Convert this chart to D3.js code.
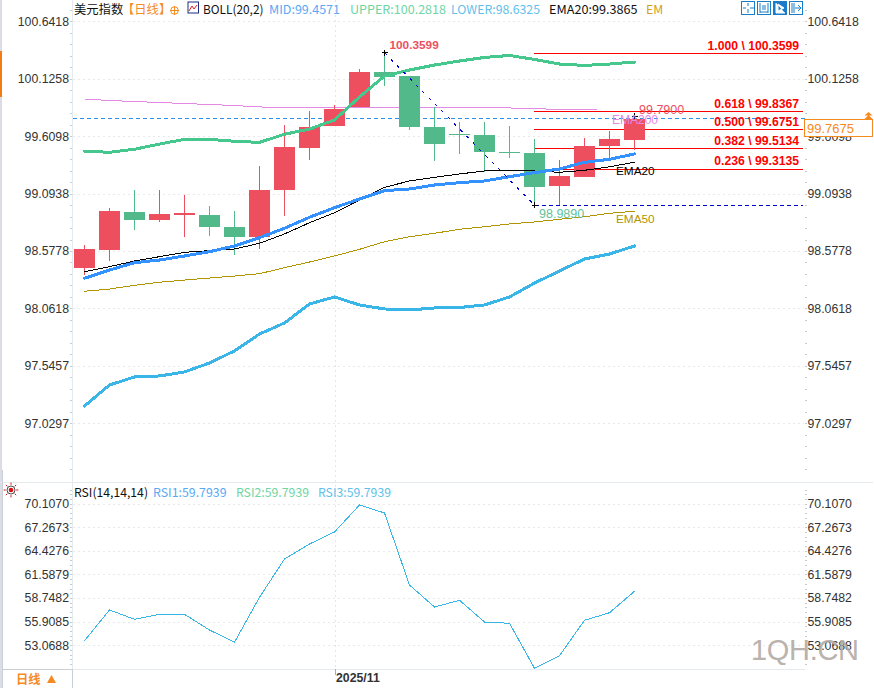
<!DOCTYPE html>
<html><head><meta charset="utf-8">
<script src="https://cdnjs.cloudflare.com/ajax/libs/d3/7.8.5/d3.min.js"></script>
<style>
html,body{margin:0;padding:0;background:#fff;overflow:hidden}
svg{display:block}
text{font-family:"Liberation Sans",Arial,sans-serif}
.hd text,.hd{font-family:"Noto Sans CJK SC","Noto Sans",sans-serif;font-size:12.3px}
.crisp{shape-rendering:crispEdges}
</style></head><body>
<svg id="c" width="874" height="688"></svg>
<script>
const categories=["10-20","10-21","10-22","10-23","10-24","10-27","10-28","10-29","10-30","10-31","11-03","11-04","11-05","11-06","11-07","11-10","11-11","11-12","11-13","11-14","11-17","11-18","11-19"];
const opens =[98.428,98.587,98.928,98.856,98.901,98.901,98.794,98.704,99.126,99.503,99.701,99.872,100.186,100.150,99.692,99.625,99.620,99.467,99.458,99.162,99.243,99.522,99.575];
const closes=[98.596,98.937,98.856,98.910,98.919,98.794,98.704,99.126,99.512,99.692,99.854,100.186,100.141,99.692,99.539,99.620,99.467,99.458,99.153,99.252,99.522,99.584,99.7675];
const highs =[98.632,98.964,99.126,99.126,99.081,98.982,98.937,99.342,99.710,99.836,99.890,100.213,100.3599,100.150,99.872,99.737,99.737,99.701,99.584,99.395,99.593,99.656,99.790];
const lows  =[98.362,98.488,98.767,98.838,98.704,98.713,98.542,98.596,98.892,99.395,99.701,99.872,100.061,99.665,99.387,99.450,99.288,99.414,98.989,98.989,99.243,99.414,99.486];
const bollUpper=[99.474,99.465,99.492,99.539,99.581,99.581,99.564,99.554,99.627,99.674,99.755,99.962,100.150,100.204,100.249,100.285,100.317,100.335,100.299,100.258,100.245,100.258,100.276];
const bollMid=[98.333,98.407,98.473,98.497,98.533,98.572,98.623,98.698,98.782,98.881,98.967,99.045,99.120,99.135,99.171,99.192,99.207,99.246,99.282,99.315,99.375,99.402,99.450];
const bollLower=[97.185,97.374,97.446,97.455,97.491,97.572,97.680,97.832,97.931,98.102,98.165,98.093,98.057,98.048,98.066,98.070,98.093,98.165,98.290,98.398,98.506,98.551,98.623];
const ema20=[98.392,98.437,98.488,98.527,98.566,98.581,98.596,98.647,98.731,98.832,98.922,99.036,99.150,99.207,99.240,99.270,99.297,99.303,99.297,99.285,99.303,99.335,99.375];
const ema50=[98.216,98.236,98.270,98.297,98.317,98.335,98.353,98.374,98.428,98.479,98.533,98.593,98.661,98.706,98.737,98.773,98.796,98.821,98.839,98.863,98.886,98.917,98.935];
const ema200=[99.944,99.930,99.921,99.912,99.903,99.894,99.885,99.872,99.869,99.869,99.869,99.869,99.869,99.867,99.867,99.863,99.863,99.863,99.858,99.849,99.845,99.845];
const rsi=[53.60,57.30,56.18,56.78,56.78,54.89,53.41,58.83,63.44,65.25,66.70,69.95,68.99,60.31,57.66,58.47,55.85,55.70,50.28,51.79,56.06,56.97,59.55];
const priceTicks=[100.6418,100.1258,99.6098,99.0938,98.5778,98.0618,97.5457,97.0297];
const rsiTicks=[70.1070,67.2673,64.4276,61.5879,58.7482,55.9085,53.0688];
const fibRatios=["1.000","0.618","0.500","0.382","0.236"];
const fibValues=[100.3599,99.8367,99.6751,99.5134,99.3135];
const fibLineValues=[100.3599,99.8367,99.6751,99.5005,99.3135];
const lastClose=99.7675, peak=100.3599, trough=98.9890, lastHigh=99.7900;
const dateTick="11-03", dateLabel="2025/11";

const RED="#ee4f5f",GREEN="#52b98a";
const svg=d3.select("#c");
const x=d3.scalePoint().domain(categories).range([84.5,634.5]);
const y=d3.scaleLinear().domain([100.6418,97.0297]).range([21.3,423.3]);
const yR=d3.scaleLinear().domain([70.107,53.0688]).range([503.7,645.1]);
const L=72.5,R=803.5;

function hl(yy,x0,x1,c,dash){const l=svg.append("line").attr("class","crisp").attr("x1",x0).attr("x2",x1).attr("y1",yy).attr("y2",yy).attr("stroke",c);if(dash)l.attr("stroke-dasharray",dash);return l;}
function vl(xx,y0,y1,c,dash){const l=svg.append("line").attr("class","crisp").attr("x1",xx).attr("x2",xx).attr("y1",y0).attr("y2",y1).attr("stroke",c);if(dash)l.attr("stroke-dasharray",dash);}
svg.append("rect").attr("x",0).attr("y",0).attr("width",2).attr("height",688).attr("fill","#dcdce6");
svg.append("rect").attr("x",0).attr("y",51).attr("width",2).attr("height",46).attr("fill","#f47a14");
vl(L,0,669,"#e4eaee");
hl(482.5,0,873,"#e4eaee");
hl(669.5,L,805,"#e4eaee");
hl(669.5,2,L,"#c8d0d6");
vl(2.5,470,688,"#c8d0d6");
vl(72.5,669,688,"#c8d0d6");

// grid
priceTicks.forEach(t=>hl(Math.round(y(t))+.5,L,R,"#e9e9e9","2,3"));
rsiTicks.forEach(t=>hl(Math.round(yR(t))+.5,L,R,"#e9e9e9","2,3"));
vl(Math.round(x(dateTick))+.5,0,669,"#e6e6e6","2,3");
vl(Math.round(x(dateTick))+.5,669,675,"#aaa");

// axes
const mP=d3.range(-2,40).map(i=>100.6418-i*0.1032);
const mR=d3.range(-3,40).map(i=>70.107-i*0.56794).filter(v=>yR(v)>=485&&yR(v)<=668);
function axis(scale,ticks,minor,side){
  const a=(side==="l"?d3.axisLeft(scale):d3.axisRight(scale)).tickValues(ticks).tickFormat(d3.format(".4f")).tickSize(0).tickPadding(0);
  const g=svg.append("g").attr("transform",`translate(${side==="l"?69:807.5},0)`).call(a);
  g.select(".domain").remove();
  g.selectAll("text").attr("font-family",'"Liberation Sans",Arial,sans-serif').attr("font-size",12.3).attr("fill","#333");
  const mk=d3.axisLeft(scale).tickValues(minor).tickSize(2).tickFormat("");
  const g2=svg.append("g").attr("class","crisp").attr("transform",`translate(${side==="l"?72:806.5},0)`).call(mk);
  g2.select(".domain").remove(); g2.selectAll("line").attr("stroke","#c4ccd2");
}
axis(y,priceTicks,mP.filter(v=>y(v)>=0&&y(v)<=480),"l");
axis(y,priceTicks,mP.filter(v=>y(v)>=0&&y(v)<=480),"r");
axis(yR,rsiTicks,mR,"l");
axis(yR,rsiTicks,mR,"r");

// EMA200
const emaLine=d3.line().x((d,i)=>i<21?x(categories[i]):x(categories[20])+x.step()/2).y(d=>y(d));
svg.append("path").attr("class","crisp").attr("d",emaLine(ema200)).attr("fill","none").attr("stroke","#e48ae4").attr("stroke-width",1);

// close dashed
svg.append("line").attr("class","crisp").attr("x1",L).attr("x2",805).attr("y1",y(lastClose)).attr("y2",y(lastClose)).attr("stroke","#2e8fe8").attr("stroke-dasharray","4,3");

// fib
svg.append("g").selectAll("rect").data(fibLineValues).join("rect").attr("class","crisp")
 .attr("x",534).attr("width",269).attr("y",d=>Math.round(y(d))).attr("height",1).attr("fill","#ff0000");
svg.selectAll("text.fib").data(fibRatios).join("text").attr("class","fib").attr("x",799)
 .attr("y",(d,i)=>Math.round(y(fibLineValues[i]))-(i===4?4:3)).attr("text-anchor","end").attr("fill","#ff0000")
 .attr("font-weight","bold").attr("font-size",12.2).text((d,i)=>`${d} \\ ${fibValues[i].toFixed(4)}`);

// candles
const W=21,cg=svg.append("g").attr("class","crisp");
categories.forEach((c,i)=>{
  const up=closes[i]>=opens[i], col=up?RED:GREEN, cx=Math.floor(x(c));
  cg.append("rect").attr("x",cx).attr("width",1).attr("y",y(highs[i])).attr("height",y(lows[i])-y(highs[i])).attr("fill",col);
  const t=y(Math.max(opens[i],closes[i])),b=y(Math.min(opens[i],closes[i]));
  cg.append("rect").attr("x",cx-10).attr("width",W).attr("y",t).attr("height",Math.max(1,b-t)).attr("fill",col);
});

// indicator lines
function drawLine(vals,col,w){svg.append("path").attr("class","crisp").attr("d",d3.line().x((d,i)=>x(categories[i])).y(d=>y(d))(vals)).attr("fill","none").attr("stroke",col).attr("stroke-width",w).attr("stroke-linejoin","round").attr("stroke-linecap","round");}
drawLine(ema50,"#b09500",1);
drawLine(ema20,"#000",1);
drawLine(bollUpper,"#46c78e",3);
drawLine(bollMid,"#3392ff",3);
drawLine(bollLower,"#3ab5e8",3);

// trend
svg.append("line").attr("class","crisp").attr("x1",x("11-05")).attr("y1",y(peak)).attr("x2",x("11-13")).attr("y2",y(trough)).attr("stroke","#0000cc").attr("stroke-dasharray","3,6");
svg.append("line").attr("class","crisp").attr("x1",x("11-13")).attr("x2",803).attr("y1",y(trough)).attr("y2",y(trough)).attr("stroke","#0000cc").attr("stroke-dasharray","4,3");
[[x("11-05"),y(peak)],[x("11-13"),y(trough)],[x("11-19"),y(lastHigh)]].forEach(p=>{
  svg.append("path").attr("class","crisp").attr("d",`M${p[0]-3},${p[1]}H${p[0]+3}M${p[0]},${p[1]-3}V${p[1]+3}`).attr("stroke","#000").attr("fill","none");
});

// marks
function lab(t,xx,yy,col,w,fs){svg.append("text").attr("x",xx).attr("y",yy).attr("fill",col).attr("font-size",fs||12).attr("font-weight",w||"normal").text(t);}
lab(peak.toFixed(4),389.5,49,RED,"bold",11.8);
lab(trough.toFixed(4),539,218,"#62c29a","normal",12.5);
lab("EMA200",612,124,"#e48ae4","normal",12);
lab(lastHigh.toFixed(4),639,114,RED,"normal",12.5);
lab("EMA20",616,175,"#000","normal",11.8);
lab("EMA50",616,223,"#b09500","normal",11.8);

// rsi line
svg.append("path").attr("class","crisp").attr("d",d3.line().x((d,i)=>x(categories[i])).y(d=>yR(d))(rsi)).attr("fill","none").attr("stroke","#3ab5e8");

// last price tag
svg.append("rect").attr("x",804.5).attr("y",119.5).attr("width",68).attr("height",17).attr("fill","#fff").attr("stroke","#f58a1f");
lab(lastClose.toFixed(4),807,132.5,"#f58a1f","normal",13);
svg.append("path").attr("d","M868.5,112 l4,3.5 h-8z M868.5,115 l4,4 h-8z").attr("fill","#f58a1f");

// headers
const hd=svg.append("g").attr("class","hd");
function ht(t,xx,yy,col,w,len){const e=hd.append("text").attr("x",xx).attr("y",yy).attr("fill",col).attr("font-weight",w||"normal").text(t);if(len)e.attr("textLength",len).attr("lengthAdjust","spacingAndGlyphs");}
ht("美元指数",74,14,"#111");
ht("【日线】",122,14,"#f58a1f");
ht("BOLL(20,2)",203,14,"#111",null,60.5);
ht("MID:99.4571",269,14,"#5aa9f5",null,71);
ht("UPPER:100.2818",350,14,"#6fd5a3",null,96);
ht("LOWER:98.6325",451,14,"#62bfea",null,89);
ht("EMA20:99.3865",549,14,"#111",null,88.5);
ht("EM",646,14,"#d4a017");
ht("RSI(14,14,14)",74,497,"#111",null,74);
ht("RSI1:59.7939",153,497,"#5aa9f5",null,73.5);
ht("RSI2:59.7939",236,497,"#6fd5a3",null,73);
ht("RSI3:59.7939",318,497,"#62bfea",null,73);
ht("日线",16,684,"#f58a1f","bold");
svg.append("path").attr("d","M47,683 l4.5,-8 l4.5,8z").attr("fill","#f58a1f");
lab(dateLabel,336,682,"#333","bold",12.3);

// icons
svg.append("circle").attr("cx",174.5).attr("cy",10.5).attr("r",3.8).attr("fill","none").attr("stroke","#f58a1f");
svg.append("path").attr("d","M170,10.5H179M174.5,6V15").attr("stroke","#f58a1f").attr("class","crisp");
svg.append("rect").attr("x",188).attr("y",2).attr("width",10.5).attr("height",11).attr("fill","#fff").attr("stroke","#1c2a80");
svg.append("path").attr("d","M189,11l3,-5l2,3l3,-4").attr("stroke","#e02020").attr("fill","none");
[741,757,773,789].forEach((xx,i)=>{
  svg.append("rect").attr("class","crisp").attr("x",xx+.5).attr("y",1.5).attr("width",13).attr("height",13).attr("fill",i===2?"#1a7cc8":"#fff").attr("stroke","#1a7cc8");
  const c=i===2?"#fff":"#1a7cc8";
  const d=["M"+(xx+7)+",3V6M"+(xx+7)+",9V13M"+(xx+2)+",8H"+(xx+5)+"M"+(xx+9)+",8H"+(xx+13),
    "M"+(xx+3)+",3V13M"+(xx+11)+",3V13M"+(xx+3)+",12H"+(xx+11)+"M"+(xx+6)+",5V10M"+(xx+8)+",5V10",
    "M"+(xx+3)+",3V13H"+(xx+12)+"M"+(xx+5)+",4L"+(xx+11)+",8L"+(xx+5)+",11z",
    "M"+(xx+3)+",3V13M"+(xx+5)+",3V13M"+(xx+6)+",8H"+(xx+12)+"M"+(xx+9)+",5L"+(xx+12)+",8L"+(xx+9)+",11"][i];
  svg.append("path").attr("d",d).attr("stroke",c).attr("fill",i===2?"#fff":"none");
});
// sun icon
const sun=svg.append("g").attr("transform","translate(11,490)");
sun.append("circle").attr("r",2.3).attr("fill","#e01010");
sun.append("circle").attr("r",4).attr("fill","none").attr("stroke","#222").attr("stroke-width",.8);
d3.range(8).forEach(k=>{const a=k*Math.PI/4;sun.append("line").attr("x1",5.2*Math.cos(a)).attr("y1",5.2*Math.sin(a)).attr("x2",7.3*Math.cos(a)).attr("y2",7.3*Math.sin(a)).attr("stroke","#e01010");});

// watermark
svg.append("text").attr("x",751).attr("y",660).attr("font-family",'"Open Sans",sans-serif').attr("font-size",29).attr("fill","#b5aca6").attr("opacity",.92).attr("textLength",108).text("1QH.CN");
</script>
</body></html>
